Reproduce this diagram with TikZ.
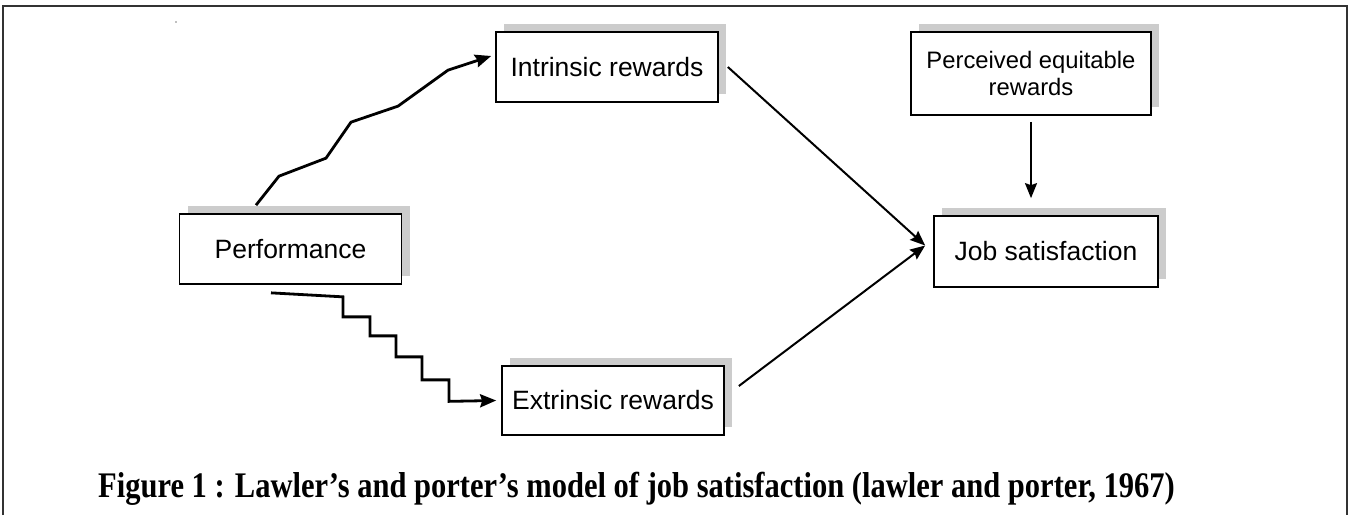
\documentclass[tikz,border=0pt]{standalone}
\usepackage{fontspec}
\setmainfont{Liberation Serif}
\setsansfont{Liberation Sans}
\usetikzlibrary{arrows.meta,shadows}

\begin{document}
\begin{tikzpicture}[x=1pt, y=-1pt, >={Stealth[length=15pt,width=12pt,inset=2pt]},
    box/.style={draw, line width=1.7pt, fill=white, inner sep=0pt,
      minimum width=222pt, minimum height=70pt,
      font=\sffamily\fontsize{26.5}{30}\selectfont,
      drop shadow={shadow xshift=8pt, shadow yshift=8pt, opacity=1, fill=black!20}},
    link/.style={->, line width=2pt},
    wiggle/.style={-{Stealth[length=16pt,width=13pt,inset=2pt]}, line width=2.8pt, line join=miter}]
    \useasboundingbox (0,0) rectangle (1350,515);
    \draw[line width=1.5pt, black!80] (3,515) -- (3,6) -- (1347,6) -- (1347,515);
    \fill[black!50] (176,22) circle (0.8pt);

    \node[box] (perf) at (290.5,249) {Performance};
    \node[box] (intr) at (607,67) {Intrinsic rewards};
    \node[box, minimum height=69pt] (extr) at (613,400.5) {Extrinsic rewards};
    \node[box, minimum width=224pt, minimum height=71pt] (job) at (1046,251.5) {Job satisfaction};
    \node[box, minimum width=240pt, minimum height=83pt, align=center,
      font=\sffamily\fontsize{23.8}{27}\selectfont] (perc) at (1031,73.5) {Perceived equitable\\rewards};
    \coordinate (meet) at ([xshift=-8pt,yshift=6pt]job.west);

    \draw[wiggle] ([xshift=-34.5pt,yshift=8pt]perf.north) -- ++(23,-29) -- ++(47,-18)
      -- ++(25,-36) -- ++(47,-16) -- ++(50,-36) -- ([xshift=-4pt,yshift=11pt]intr.west);
    \draw[wiggle] ([xshift=-19.5pt,yshift=-8pt]perf.south) -- ++(72,4) -- ++(0,20)
      -- ++(27,0) -- ++(0,19) -- ++(26,0) -- ++(0,21) -- ++(26,0) -- ++(0,23)
      -- ++(27,0) -- ++(0,21.5) -- ([xshift=-5pt]extr.west);
    \draw[link] ([xshift=9pt]intr.east) -- (meet);
    \draw[link] ([shift={(14pt,14.5pt)}]extr.east) -- (meet);
    \draw[link, shorten <=6pt, shorten >=17pt] (perc.south) -- (perc.south |- job.north);

    \node[anchor=base west, inner sep=0pt, font=\bfseries\fontsize{36}{40}\selectfont] (cap) at (98,497)
      {\scalebox{0.848}[1]{Figure 1 : Lawler’s and porter’s model of job satisfaction (lawler and porter, 1967)}};
\end{tikzpicture}
\end{document}
